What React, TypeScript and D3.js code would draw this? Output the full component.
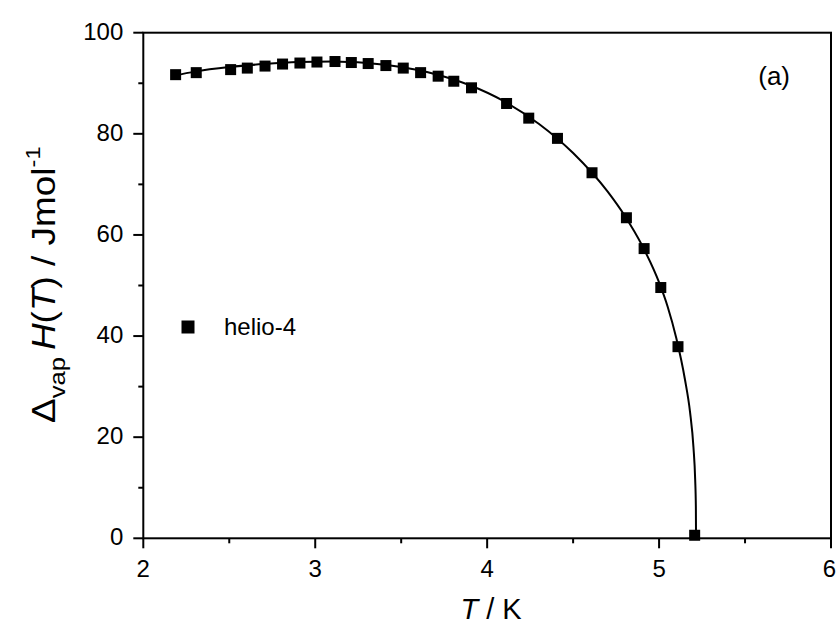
import React from "react";
import * as d3 from "d3";

const tempK = [2.188, 2.308, 2.508, 2.605, 2.708, 2.81, 2.911, 3.01, 3.115, 3.21, 3.308, 3.411, 3.512, 3.613, 3.715, 3.806, 3.909, 4.113, 4.242, 4.409, 4.61, 4.81, 4.913, 5.01, 5.11, 5.207];
const enthalpy = [91.7, 92.1, 92.7, 93.0, 93.4, 93.8, 94.0, 94.2, 94.3, 94.1, 93.9, 93.5, 93.0, 92.1, 91.4, 90.4, 89.1, 86.0, 83.1, 79.1, 72.3, 63.4, 57.3, 49.6, 37.9, 0.6];

const fitT = [2.18, 2.3, 2.5, 2.7, 2.9, 3.1, 3.3, 3.5, 3.7, 3.9, 4.1, 4.3, 4.5, 4.7, 4.8, 4.9, 5.0, 5.05, 5.1, 5.15, 5.18, 5.2, 5.21, 5.214, 5.215];
const fitH = [91.5, 92.3, 93.2, 93.8, 94.2, 94.3, 94.0, 93.2, 91.8, 89.6, 86.4, 82.0, 76.2, 68.6, 63.8, 58.0, 50.6, 45.8, 39.6, 31.5, 25.0, 18.0, 11.6, 6.2, 0];

const xTicks = [2, 3, 4, 5, 6];
const xMinor = [2.5, 3.5, 4.5, 5.5];
const yTicks = [0, 20, 40, 60, 80, 100];
const yMinor = [10, 30, 50, 70, 90];

export default function App() {
  const W = 836, H = 628;
  const x = d3.scaleLinear().domain([2, 6]).range([143.3, 831]);
  const y = d3.scaleLinear().domain([0, 100]).range([538.3, 32.7]);
  const line = d3.line<number>().x((_, i) => x(fitT[i])).y((_, i) => y(fitH[i])).curve(d3.curveMonotoneX);
  const font = "Liberation Sans, Arial, sans-serif";
  const sq = 11;
  return (
    <svg width={W} height={H} style={{ position: "absolute", left: 0, top: 0, background: "#fff" }} fontFamily={font}>
      <rect x={0} y={0} width={W} height={H} fill="#fff" />
      <rect x={x(2)} y={y(100)} width={x(6) - x(2)} height={y(0) - y(100)} fill="none" stroke="#000" strokeWidth={2} />
      {xTicks.map((t) => (
        <g key={"xt" + t}>
          <line x1={x(t)} x2={x(t)} y1={y(0)} y2={y(0) + 10} stroke="#000" strokeWidth={2} />
          <text x={t === 6 ? W : x(t)} y={y(0) + 39} textAnchor={t === 6 ? "end" : "middle"} fontSize={24}>{t}</text>
        </g>
      ))}
      {xMinor.map((t) => (
        <line key={"xm" + t} x1={x(t)} x2={x(t)} y1={y(0)} y2={y(0) + 5} stroke="#000" strokeWidth={2} />
      ))}
      {yTicks.map((v) => (
        <g key={"yt" + v}>
          <line x1={x(2) - 10} x2={x(2)} y1={y(v)} y2={y(v)} stroke="#000" strokeWidth={2} />
          <text x={x(2) - 20} y={y(v) + 7} textAnchor="end" fontSize={24}>{v}</text>
        </g>
      ))}
      {yMinor.map((v) => (
        <line key={"ym" + v} x1={x(2) - 5} x2={x(2)} y1={y(v)} y2={y(v)} stroke="#000" strokeWidth={2} />
      ))}
      <path d={line(fitT) || ""} fill="none" stroke="#000" strokeWidth={2} />
      {tempK.map((t, i) => (
        <rect key={"p" + i} x={x(t) - sq / 2} y={y(enthalpy[i]) - sq / 2} width={sq} height={sq} fill="#000" />
      ))}
      <rect x={188 - 6.5} y={327 - 6.5} width={13} height={13} fill="#000" />
      <text x={224} y={335} fontSize={24}>helio-4</text>
      <text x={790} y={85} textAnchor="end" fontSize={26}>(a)</text>
      <text x={491} y={619} textAnchor="middle" fontSize={29}>
        <tspan fontStyle="italic">T</tspan> / K
      </text>
      <text transform="translate(55,423) rotate(-90) scale(1.12,1)" textAnchor="start" fontSize={33}>
        Δ<tspan fontSize={23} dy={10}>vap</tspan>
        <tspan dy={-10} dx={6} fontStyle="italic">H</tspan><tspan>(</tspan><tspan fontStyle="italic">T</tspan><tspan>) / Jmol</tspan><tspan fontSize={21} dy={-15}>-1</tspan>
      </text>
    </svg>
  );
}
